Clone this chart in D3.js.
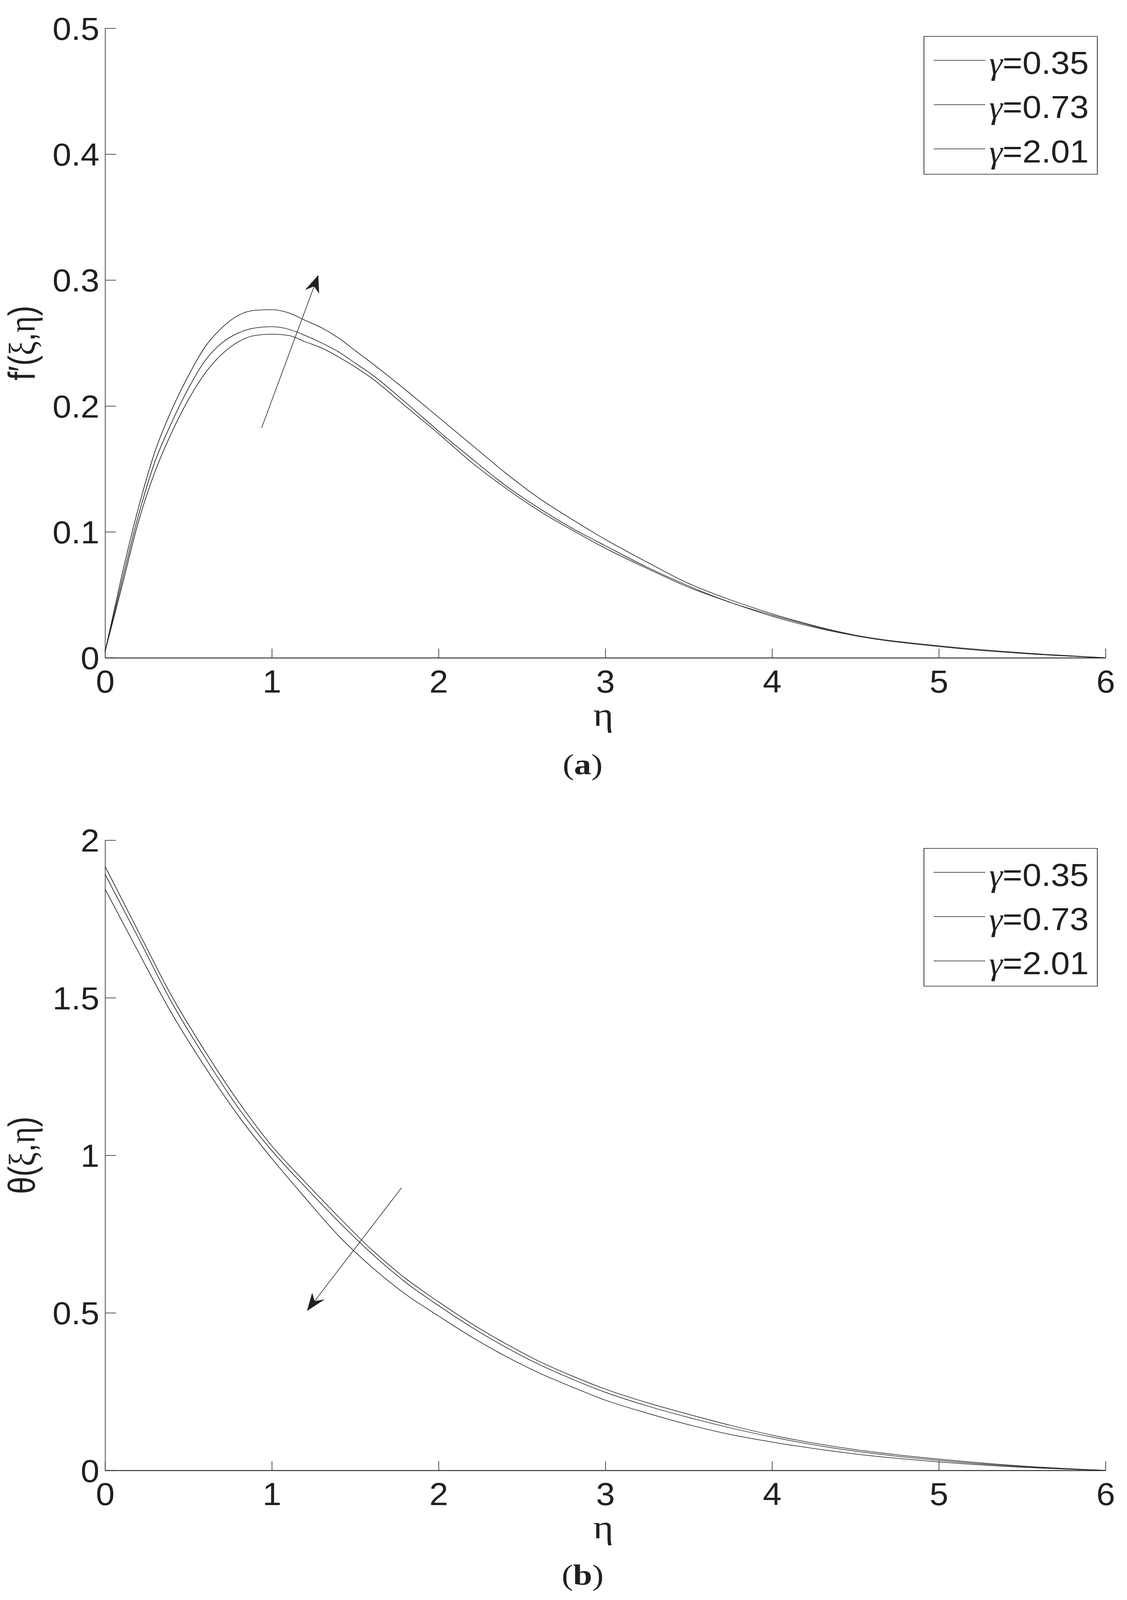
<!DOCTYPE html>
<html>
<head>
  <meta charset='utf-8'>
  <title>f'(xi,eta) and theta(xi,eta) vs eta</title>
  <script src='https://cdn.jsdelivr.net/npm/d3@7/dist/d3.min.js'></script>
  <style type='text/css'>
    html, body { margin: 0; padding: 0; background: #fff; overflow: hidden; }
    .axis path, .axis line { stroke: #231f20; }
    .axis text { font-family: 'Liberation Sans', Arial, sans-serif; font-size: 96px; fill: #231f20; }
  </style>
</head>
<body>
  <div id='plot-container'></div>
  <script>
    // eta grid and curves for panel (a), f'(xi,eta)
    const etaA = [0, 0.1, 0.2, 0.3, 0.4, 0.5, 0.6, 0.7, 0.8, 0.9, 1.0, 1.1, 1.2, 1.3, 1.4, 1.5, 1.6,
                  1.8, 2.0, 2.2, 2.4, 2.6, 2.8, 3.0, 3.25, 3.5, 3.75, 4.0, 4.5, 5.0, 5.5, 6.0];
    const velTop = [0.005, 0.065, 0.119, 0.164, 0.197, 0.224, 0.247, 0.262, 0.272, 0.276, 0.2765, 0.274, 0.268, 0.262, 0.254, 0.244, 0.234,
                    0.213, 0.191, 0.169, 0.147, 0.127, 0.110, 0.094, 0.076, 0.059, 0.046, 0.035, 0.018, 0.0095, 0.004, 0];
    const velMid = [0.005, 0.060, 0.113, 0.156, 0.187, 0.214, 0.236, 0.250, 0.258, 0.262, 0.263, 0.261, 0.256, 0.250, 0.243, 0.234, 0.225,
                    0.203, 0.180, 0.158, 0.137, 0.119, 0.103, 0.089, 0.072, 0.057, 0.044, 0.034, 0.0175, 0.009, 0.0035, 0];
    const velBot = [0.005, 0.056, 0.108, 0.148, 0.179, 0.205, 0.226, 0.241, 0.251, 0.256, 0.257, 0.256, 0.251, 0.246, 0.239, 0.231, 0.222,
                    0.200, 0.178, 0.155, 0.135, 0.117, 0.1015, 0.087, 0.071, 0.056, 0.044, 0.033, 0.0175, 0.009, 0.0035, 0];

    // eta grid and curves for panel (b), theta(xi,eta)
    const etaB = [0, 0.2, 0.4, 0.6, 0.8, 1.0, 1.2, 1.4, 1.6, 1.8, 2.0, 2.2, 2.4, 2.6, 2.8, 3.0,
                  3.25, 3.5, 3.75, 4.0, 4.5, 5.0, 5.5, 6.0];
    const thTop = [1.917, 1.71, 1.505, 1.33, 1.17, 1.03, 0.915, 0.805, 0.70, 0.61, 0.535, 0.465, 0.403, 0.347, 0.300, 0.258,
                   0.215, 0.178, 0.143, 0.112, 0.066, 0.036, 0.014, 0];
    const thMid = [1.892, 1.69, 1.485, 1.31, 1.15, 1.015, 0.90, 0.79, 0.688, 0.598, 0.523, 0.454, 0.392, 0.337, 0.290, 0.248,
                   0.205, 0.168, 0.135, 0.106, 0.061, 0.032, 0.012, 0];
    const thBot = [1.845, 1.645, 1.45, 1.28, 1.125, 0.99, 0.865, 0.745, 0.645, 0.56, 0.49, 0.423, 0.363, 0.31, 0.265, 0.223,
                   0.182, 0.145, 0.114, 0.09, 0.052, 0.027, 0.01, 0];

    // legend, ticks, arrows (arrow ends in data units)
    const gammaLabels = ['0.35', '0.73', '2.01'];
    const xTicks = [0, 1, 2, 3, 4, 5, 6];
    const yTicksA = [0, 0.1, 0.2, 0.3, 0.4, 0.5];
    const yTicksB = [0, 0.5, 1, 1.5, 2];
    const arrowA = [[0.939, 0.1826], [1.279, 0.304]];
    const arrowB = [[1.778, 0.897], [1.211, 0.506]];

    const ink = '#231f20';
    const W0 = 2886, H0 = 4877;
    // the window can be shorter than the figure, so fit the whole figure into it
    const svg = d3.select('#plot-container').append('svg')
        .attr('width', window.innerWidth || W0)
        .attr('height', Math.min(window.innerHeight || H0, H0))
        .attr('viewBox', `0 0 ${W0} ${H0}`)
        .attr('preserveAspectRatio', 'none')
        .style('display', 'block');

    const x = d3.scaleLinear().domain([0, 6]).range([269, 2831]);

    function drawPanel(opt) {
        const y = d3.scaleLinear().domain(opt.yDomain).range(opt.yRange);
        const g = svg.append('g');
        const y0 = opt.yRange[0];

        // axes, inward ticks, no box
        const xAxis = g.append('g')
            .attr('class', 'axis')
            .attr('transform', `translate(0, ${y0})`)
            .call(d3.axisBottom(x).tickValues(xTicks).tickFormat(d3.format('d'))
                .tickSizeInner(-28).tickSizeOuter(0).tickPadding(38));
        xAxis.select('.domain').attr('stroke-width', 2.8);
        xAxis.selectAll('.tick line').attr('stroke-width', 1.6);
        xAxis.selectAll('.tick text').attr('transform', 'scale(0.9,1)');

        const yAxis = g.append('g')
            .attr('class', 'axis')
            .attr('transform', `translate(${x(0)}, 0)`)
            .call(d3.axisLeft(y).tickValues(opt.yTicks).tickFormat(d => String(d))
                .tickSizeInner(-28).tickSizeOuter(0).tickPadding(16));
        yAxis.select('.domain').attr('stroke-width', 1.6);
        yAxis.selectAll('.tick line').attr('stroke-width', 1.8);
        yAxis.selectAll('.tick text')
            .attr('dy', '0.36em')
            .attr('transform', 'scale(0.9,1)');

        // curves
        const line = d3.line()
            .x(d => x(d[0]))
            .y(d => y(d[1]))
            .curve(d3.curveMonotoneX);
        opt.series.forEach(s => {
            g.append('path')
                .attr('d', line(opt.eta.map((e, i) => [e, s[i]])))
                .attr('fill', 'none')
                .attr('stroke', ink)
                .attr('stroke-width', 1.8);
        });

        // arrow
        const p1 = [x(opt.arrow[0][0]), y(opt.arrow[0][1])];
        const p2 = [x(opt.arrow[1][0]), y(opt.arrow[1][1])];
        const len = Math.hypot(p2[0] - p1[0], p2[1] - p1[1]);
        const u = [(p2[0] - p1[0]) / len, (p2[1] - p1[1]) / len];
        const n = [-u[1], u[0]];
        const L = 54, W = 19, N = 36;
        const notch = [p2[0] - u[0] * N, p2[1] - u[1] * N];
        g.append('line')
            .attr('x1', p1[0]).attr('y1', p1[1])
            .attr('x2', notch[0]).attr('y2', notch[1])
            .attr('stroke', ink)
            .attr('stroke-width', 1.6);
        const head = [
            p2,
            [p2[0] - u[0] * L + n[0] * W, p2[1] - u[1] * L + n[1] * W],
            notch,
            [p2[0] - u[0] * L - n[0] * W, p2[1] - u[1] * L - n[1] * W]
        ];
        g.append('path')
            .attr('d', 'M' + head.map(p => p.join(',')).join('L') + 'Z')
            .attr('fill', ink);

        // legend
        const top = opt.yRange[1];
        const leg = g.append('g');
        leg.append('rect')
            .attr('x', 2366).attr('y', top + 25)
            .attr('width', 444).attr('height', 420)
            .attr('fill', '#fff')
            .attr('stroke', ink)
            .attr('stroke-width', 1.8);
        gammaLabels.forEach((lab, i) => {
            const ly = top + 98 + i * 135;
            leg.append('line')
                .attr('x1', 2391).attr('x2', 2523)
                .attr('y1', ly).attr('y2', ly)
                .attr('stroke', ink)
                .attr('stroke-width', 1.8);
            const t = leg.append('text')
                .attr('x', 2533).attr('y', ly + 41)
                .attr('font-size', 98)
                .attr('fill', ink)
                .attr('textLength', 255)
                .attr('lengthAdjust', 'spacingAndGlyphs');
            t.append('tspan')
                .attr('font-family', "'Liberation Serif', 'Times New Roman', serif")
                .attr('font-style', 'italic')
                .text('\u03B3');
            t.append('tspan')
                .attr('font-family', "'Liberation Sans', Arial, sans-serif")
                .text('=' + lab);
        });

        // y label
        const midY = (opt.yRange[0] + opt.yRange[1]) / 2;
        const yl = g.append('text')
            .attr('transform', `translate(89, ${midY}) rotate(-90)`)
            .attr('text-anchor', 'middle')
            .attr('font-size', 96)
            .attr('fill', ink)
            .attr('font-family', "'Liberation Sans', Arial, sans-serif");
        opt.yLabel.forEach(part => {
            const ts = yl.append('tspan').text(part[0]);
            if (part[1]) ts.attr('font-family', "'Liberation Serif', 'Times New Roman', serif");
        });

        // x label
        g.append('text')
            .attr('x', 1545).attr('y', y0 + 207)
            .attr('text-anchor', 'middle')
            .attr('font-size', 100)
            .attr('fill', ink)
            .attr('font-family', "'Liberation Serif', 'Times New Roman', serif")
            .text('\u03B7');

        // panel caption
        const cap = g.append('text')
            .attr('x', 1492).attr('y', opt.captionY)
            .attr('text-anchor', 'middle')
            .attr('font-size', 88)
            .attr('fill', ink)
            .attr('font-family', "'Liberation Serif', 'Times New Roman', serif");
        cap.append('tspan').text('(');
        cap.append('tspan').attr('font-weight', 'bold').text(opt.caption);
        cap.append('tspan').text(')');
    }

    drawPanel({
        yDomain: [0, 0.5], yRange: [2005, 86], yTicks: yTicksA,
        eta: etaA, series: [velTop, velMid, velBot], arrow: arrowA,
        yLabel: [['f\u2032'], ['('], ['\u03BE', true], [','], ['\u03B7', true], [')']],
        caption: 'a', captionY: 2360
    });
    drawPanel({
        yDomain: [0, 2], yRange: [4482, 2561], yTicks: yTicksB,
        eta: etaB, series: [thTop, thMid, thBot], arrow: arrowB,
        yLabel: [['\u03B8'], ['('], ['\u03BE', true], [','], ['\u03B7', true], [')']],
        caption: 'b', captionY: 4830
    });
  </script>
</body>
</html>
